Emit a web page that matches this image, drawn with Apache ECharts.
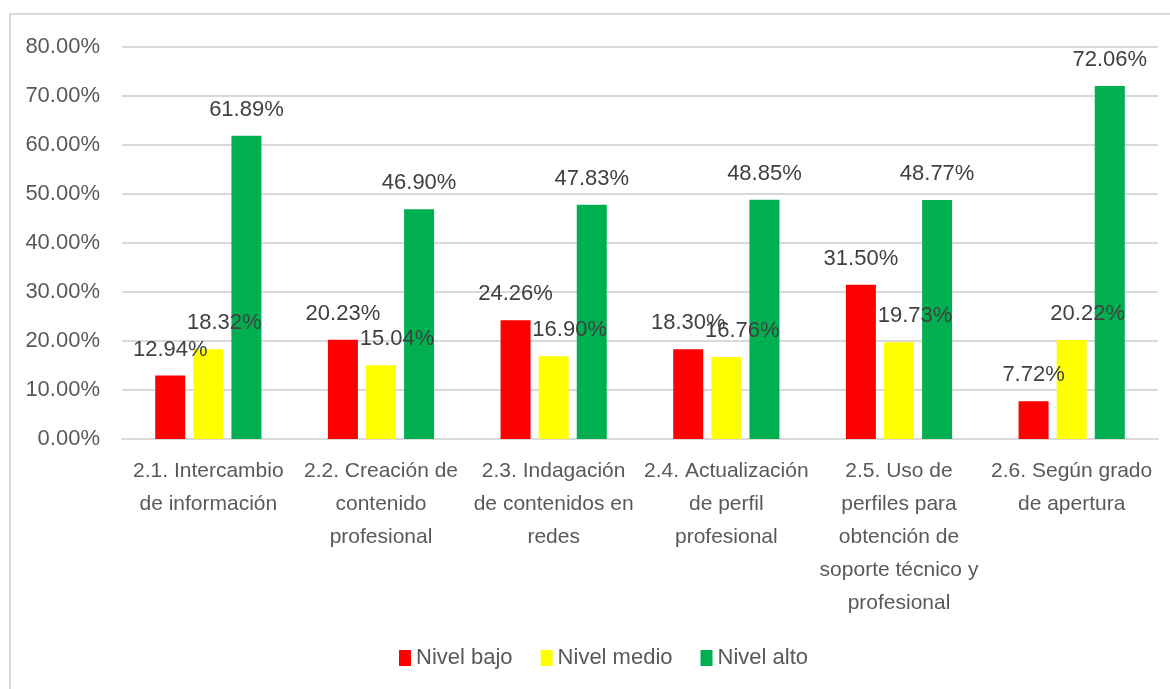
<!DOCTYPE html>
<html>
<head>
<meta charset="utf-8">
<script src="https://cdn.jsdelivr.net/npm/echarts@6/dist/echarts.min.js"></script>
<style>
    html, body { margin: 0; padding: 0; background: #ffffff; }
    #chart { width: 1170px; height: 689px; }
</style>
</head>
<body>
<div id="chart"></div>
<script>
// categorias del eje x (saltos de linea como en el original)
var categories = [
    '2.1. Intercambio\nde información',
    '2.2. Creación de\ncontenido\nprofesional',
    '2.3. Indagación\nde contenidos en\nredes',
    '2.4. Actualización\nde perfil\nprofesional',
    '2.5. Uso de\nperfiles para\nobtención de\nsoporte técnico y\nprofesional',
    '2.6. Según grado\nde apertura'
];
var seriesNames = ['Nivel bajo', 'Nivel medio', 'Nivel alto'];
var nivelBajo = [12.94, 20.23, 24.26, 18.30, 31.50, 7.72];
var nivelMedio = [18.32, 15.04, 16.90, 16.76, 19.73, 20.22];
var nivelAlto = [61.89, 46.90, 47.83, 48.85, 48.77, 72.06];

var FONT = 'Liberation Sans';
var colors = ['#ff0000', '#ffff00', '#00b050'];
var labelShift = [0, 16, 0];

var chart = echarts.init(document.getElementById('chart'));

function makeSerie(name, data, idx){
    return {
        name: name,
        type: 'bar',
        data: data,
        barWidth: 30,
        barGap: '27%',
        itemStyle: { color: colors[idx] },
        label: {
            show: true,
            position: 'top',
            distance: 15,
            offset: [labelShift[idx], 0],
            color: '#404040',
            fontFamily: FONT,
            fontSize: 22,
            formatter: function(p){ return p.value.toFixed(2) + '%'; }
        }
    };
}

chart.setOption({
    animation: false,
    textStyle: { fontFamily: FONT },
    graphic: [{
        type: 'rect',
        shape: { x: 10, y: 14, width: 1180, height: 700 },
        style: { fill: 'none', stroke: '#d9d9d9', lineWidth: 2 },
        z: -10
    }],
    grid: { left: 122, right: 12, top: 47, bottom: 250 },
    legend: {
        data: seriesNames,
        bottom: 15,
        left: 394,
        itemWidth: 12,
        itemHeight: 16,
        itemGap: 28,
        icon: 'rect',
        textStyle: { color: '#595959', fontSize: 22, fontFamily: FONT }
    },
    xAxis: {
        type: 'category',
        data: categories,
        axisLine: { lineStyle: { color: '#d9d9d9', width: 2 } },
        axisTick: { show: false },
        axisLabel: {
            interval: 0,
            margin: 16,
            color: '#595959',
            fontSize: 21,
            lineHeight: 33,
            fontFamily: FONT
        }
    },
    yAxis: {
        type: 'value',
        min: 0,
        max: 80,
        interval: 10,
        axisLine: { show: false },
        axisTick: { show: false },
        splitLine: { lineStyle: { color: '#d9d9d9', width: 2 } },
        axisLabel: {
            margin: 22,
            color: '#595959',
            fontSize: 22,
            fontFamily: FONT,
            formatter: function(v){ return v.toFixed(2) + '%'; }
        }
    },
    series: [
        makeSerie(seriesNames[0], nivelBajo, 0),
        makeSerie(seriesNames[1], nivelMedio, 1),
        makeSerie(seriesNames[2], nivelAlto, 2)
    ]
});
</script>
</body>
</html>
